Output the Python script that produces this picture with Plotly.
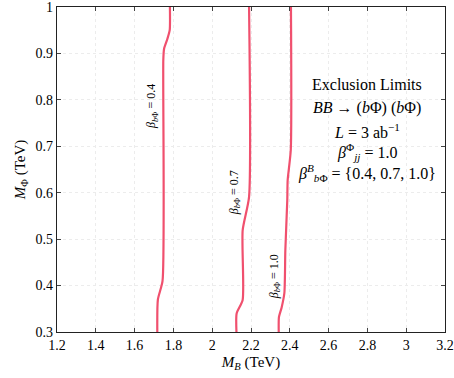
import plotly.graph_objects as go

# contour points (M_B, M_Phi in TeV)
y_04 = [0.30, 0.37, 0.41, 0.886, 0.91, 0.93, 0.95, 1.00]
x_04 = [1.717, 1.720, 1.744, 1.748, 1.752, 1.768, 1.781, 1.782]

y_07 = [0.30, 0.34, 0.369, 0.519, 0.591, 1.00]
x_07 = [2.125, 2.126, 2.157, 2.157, 2.190, 2.190]

y_10 = [0.30, 0.332, 0.353, 0.384, 0.476, 0.584, 0.627, 0.692, 1.00]
x_10 = [2.343, 2.344, 2.358, 2.372, 2.377, 2.387, 2.389, 2.405, 2.406]

betas = ["0.4", "0.7", "1.0"]
label_x = [1.69, 2.118, 2.324]
label_y = [0.785, 0.599, 0.418]

x_ticks = [1.2, 1.4, 1.6, 1.8, 2.0, 2.2, 2.4, 2.6, 2.8, 3.0, 3.2]
x_ticktext = ["1.2", "1.4", "1.6", "1.8", "2", "2.2", "2.4", "2.6", "2.8", "3", "3.2"]
y_ticks = [0.3, 0.4, 0.5, 0.6, 0.7, 0.8, 0.9, 1.0]
y_ticktext = ["0.3", "0.4", "0.5", "0.6", "0.7", "0.8", "0.9", "1"]

line_color = "#f0506e"
font = "Liberation Serif"

fig = go.Figure()
for xs, ys in [(x_04, y_04), (x_07, y_07), (x_10, y_10)]:
    fig.add_trace(go.Scatter(x=xs, y=ys, mode="lines", line=dict(color=line_color, width=2.2, shape="spline", smoothing=0.6),
                             showlegend=False, hoverinfo="skip"))

for b, lx, ly in zip(betas, label_x, label_y):
    fig.add_annotation(x=lx, y=ly, text="<i>β</i><sub><i>b</i>Φ</sub> = " + b, textangle=-90,
                       showarrow=False, font=dict(family=font, size=12, color="black"))

info = ["Exclusion Limits",
        "<i>BB</i> → (<i>b</i>Φ) (<i>b</i>Φ)",
        "<i>L</i> = 3 ab<sup>−1</sup>",
        "<i>β</i><sup>Φ</sup><sub><i>jj</i></sub> = 1.0",
        "<i>β</i><sup><i>B</i></sup><sub><i>b</i>Φ</sub> = {0.4, 0.7, 1.0}"]
info_y = [0.833, 0.783, 0.733, 0.688, 0.643]
for t, yy in zip(info, info_y):
    fig.add_annotation(x=2.80, y=yy, text=t, showarrow=False, font=dict(family=font, size=16, color="black"))

tickfont = dict(family=font, size=14, color="black")
fig.update_layout(
    width=454, height=378,
    margin=dict(l=57, r=9, t=7, b=46),
    plot_bgcolor="white", paper_bgcolor="white",
    font=dict(family=font, size=14, color="black"),
    xaxis=dict(range=[1.2, 3.2], tickvals=x_ticks, ticktext=x_ticktext, ticks="inside", ticklen=4,
               tickfont=tickfont, ticklabeloverflow="allow",
               showline=True, linecolor="#222", linewidth=1.3, mirror="ticks", automargin=False,
               showgrid=True, gridcolor="#ececec", griddash="dot", zeroline=False,
               title=dict(text="<i>M</i><sub><i>B</i></sub> (TeV)", standoff=4, font=dict(size=15))),
    yaxis=dict(range=[0.3, 1.0], tickvals=y_ticks, ticktext=y_ticktext, ticks="inside", ticklen=4,
               tickfont=tickfont, ticklabeloverflow="allow",
               showline=True, linecolor="#222", linewidth=1.3, mirror="ticks", automargin=False,
               showgrid=True, gridcolor="#ececec", griddash="dot", zeroline=False,
               title=dict(text="<i>M</i><sub>Φ</sub> (TeV)", standoff=6, font=dict(size=15))),
)

# drop the default 8px body margin so the figure sits at the window's corner
fig.write_html("out.html", config={"displayModeBar": False},
               post_script="document.body.style.margin='0';")
